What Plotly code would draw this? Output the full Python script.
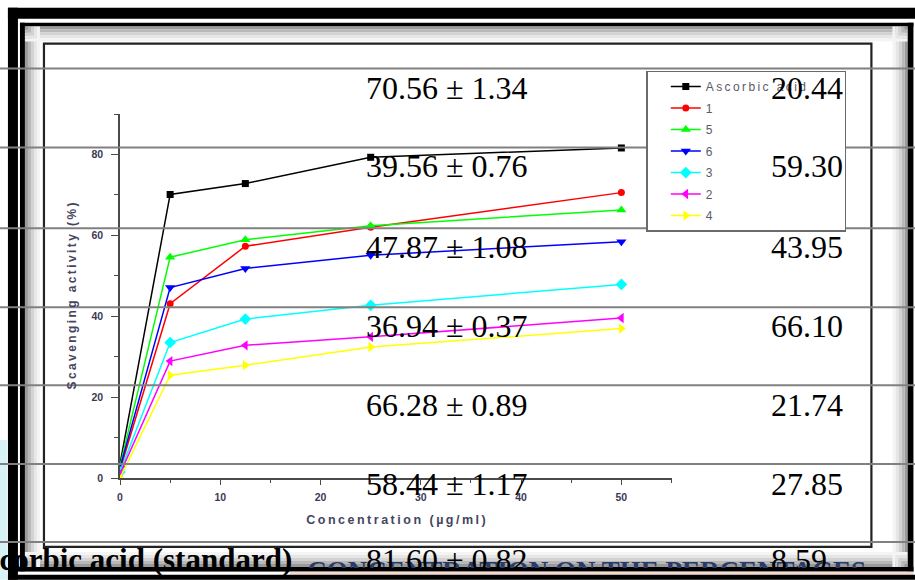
import plotly.graph_objects as go

# ---------------- data ----------------
conc = [0, 5, 12.5, 25, 50]
ascorbic = [3.5, 70.1, 72.8, 79.3, 81.60]
c1 = [2.0, 43.1, 57.3, 62.0, 70.56]
c5 = [3.0, 54.6, 58.9, 62.4, 66.28]
c6 = [2.5, 47.1, 51.8, 55.1, 58.44]
c3 = [1.5, 33.5, 39.3, 42.7, 47.87]
c2 = [1.0, 28.9, 32.8, 34.9, 39.56]
c4 = [0.0, 25.4, 27.9, 32.4, 36.94]

series_names = ["Ascorbic acid", "1", "5", "6", "3", "2", "4"]
series_vals = [ascorbic, c1, c5, c6, c3, c2, c4]
series_colors = ["#000000", "#ff0000", "#00ff00", "#0000ff", "#00ffff", "#ff00ff", "#ffff00"]
series_symbols = ["square", "circle", "triangle-up", "triangle-down", "diamond", "triangle-left", "triangle-right"]
series_sizes = [7, 7, 9, 9, 9, 9, 9]

# table text overlay
table_left = ["70.56 ± 1.34", "39.56 ± 0.76", "47.87 ± 1.08", "36.94 ± 0.37",
              "66.28 ± 0.89", "58.44 ± 1.17", "81.60 ± 0.82"]
table_right = ["20.44", "59.30", "43.95", "66.10", "21.74", "27.85", "8.59"]
row_label = "Ascorbic acid (standard)"
caption = "CONCENTRATION ON THE PERCENTAGES"
x_title = "Concentration (µg/ml)"
y_title = "Scavenging activity (%)"

# ---------------- geometry helpers ----------------
FW, FH = 915, 580
L, R_PX, T_PX, B_PX = 120, 671.7, 113.5, 478
PW, PH = R_PX - L, B_PX - T_PX
XMAX, YMAX = 55.05, 90.0


def X(px):
    return (px - L) / PW


def Y(py):
    return (B_PX - py) / PH


def spaced(s):
    return "\u2009".join(list(s))


fig = go.Figure()
for name, vals, col, sym, sz in zip(series_names, series_vals, series_colors,
                                     series_symbols, series_sizes):
    disp = spaced(name) + "\u00a0" * 10 if name == "Ascorbic acid" else name
    fig.add_trace(go.Scatter(
        x=conc, y=vals, name=disp, legendgroup=name,
        mode="lines+markers",
        line=dict(color=col, width=1.5),
        marker=dict(symbol=sym, size=sz, color=col),
    ))

shapes = []


def rect(x0, y0, x1, y1, fill, layer="below"):
    shapes.append(dict(type="rect", xref="paper", yref="paper",
                       x0=X(x0), x1=X(x1), y0=Y(y1), y1=Y(y0),
                       fillcolor=fill, line=dict(width=0), layer=layer))


# light cyan patch on far left
rect(0, 440, 7, 580, "#d6f2f6")
# outer thick black frame
rect(8, 7, 18, 580, "#000000")
rect(8, 7, FW, 18, "#000000")
# second thin frame
rect(20, 22, 25, 572, "#000000")
rect(20, 22, 913, 26, "#000000")
rect(907, 22, 913, 572, "#000000")
# shadow gradients inside second frame
grays = ["#9a9a9a", "#b8b8b8", "#d2d2d2", "#e6e6e6", "#f4f4f4"]
for i, g in enumerate(grays):
    rect(25 + 3 * i, 26, 28 + 3 * i, 567, g)
    rect(25, 26 + 3 * i, 907, 29 + 3 * i, g)
    rect(904 - 3 * i, 26, 907 - 3 * i, 567, g)
    rect(25, 564 - 3 * i, 907, 567 - 3 * i, g)
# white interior
rect(40, 41, 892, 552, "#ffffff")
# inner chart frame
shapes.append(dict(type="rect", xref="paper", yref="paper",
                   x0=X(44), x1=X(871), y0=Y(547), y1=Y(43),
                   line=dict(color="#222222", width=2.2), layer="below"))
# bottom frame band
rect(8, 567, 913, 572, "#000000", "above")
rect(18, 572, 913, 575, "#ffffff", "above")
rect(290, 572, 913, 575, "#f6d9cf", "above")
rect(8, 575, FW, 580, "#000000", "above")

# table row lines
for yy in [68, 147, 228, 307, 385, 464, 542]:
    shapes.append(dict(type="line", xref="paper", yref="paper",
                       x0=X(0), x1=X(FW), y0=Y(yy), y1=Y(yy),
                       line=dict(color="#808080", width=2), layer="above"))

annotations = []
# caption: only its top strip is visible (box height clips the rest)
annotations.append(dict(xref="paper", yref="paper", x=X(867), y=Y(555),
                        xanchor="right", yanchor="top", showarrow=False,
                        text="<b>" + caption + "</b>", width=570, height=12,
                        valign="top", align="right", borderpad=0,
                        font=dict(family="Liberation Serif", size=27, color="#2a3a6a")))

row_ys = [87.5, 166, 247, 326, 405, 484, 560]
for txt_l, txt_r, yy in zip(table_left, table_right, row_ys):
    annotations.append(dict(xref="paper", yref="paper", x=X(364), y=Y(yy),
                            xanchor="left", yanchor="middle", showarrow=False,
                            text=txt_l,
                            font=dict(family="Liberation Serif", size=32, color="#000000")))
    annotations.append(dict(xref="paper", yref="paper", x=X(769), y=Y(yy),
                            xanchor="left", yanchor="middle", showarrow=False,
                            text=txt_r,
                            font=dict(family="Liberation Serif", size=32, color="#000000")))
annotations.append(dict(xref="paper", yref="paper", x=X(294), y=Y(560),
                        xanchor="right", yanchor="middle", showarrow=False,
                        text="<b>" + row_label + "</b>",
                        font=dict(family="Liberation Serif", size=31, color="#000000")))

axis_col = "#4a4a4a"
tick_font = dict(family="Arial", size=10.5, color="#3a3a55", weight="bold")

fig.update_layout(
    width=FW, height=FH,
    margin=dict(l=L, r=FW - R_PX, t=T_PX, b=FH - B_PX, pad=0),
    paper_bgcolor="#ffffff", plot_bgcolor="#ffffff",
    shapes=shapes, annotations=annotations,
    showlegend=True,
    legend=dict(x=X(646), y=Y(70), xanchor="left", yanchor="top",
                bgcolor="#ffffff", bordercolor="#6a6a6a", borderwidth=1.5,
                font=dict(family="Arial", size=12, color="#5a5a66"),
                traceorder="grouped", tracegroupgap=2.5, indentation=18),
    xaxis=dict(range=[0, XMAX], showgrid=False, zeroline=False,
               showline=True, linecolor=axis_col, linewidth=1.5,
               ticks="outside", ticklen=5, tickwidth=1.2, tickcolor=axis_col,
               dtick=10, tick0=0, tickfont=tick_font, ticklabelstandoff=4,
               minor=dict(dtick=5, ticks="outside", ticklen=3, tickcolor=axis_col, tickwidth=1.2),
               title=dict(text="<b>" + spaced(x_title) + "</b>", standoff=13,
                          font=dict(family="Arial", size=12.5, color="#454560"))),
    yaxis=dict(range=[0, YMAX], showgrid=False, zeroline=False,
               showline=True, linecolor=axis_col, linewidth=1.5,
               ticks="outside", ticklen=7, tickwidth=1.2, tickcolor=axis_col,
               dtick=20, tick0=0, tickfont=tick_font, ticklabelstandoff=6,
               minor=dict(dtick=10, ticks="outside", ticklen=4, tickcolor=axis_col, tickwidth=1.2),
               title=dict(text="<b>" + spaced(y_title) + "</b>", standoff=12,
                          font=dict(family="Arial", size=12, color="#454560"))),
)

fig.write_html("out.html", config={"displayModeBar": False},
               post_script="document.body.style.margin='0';")
